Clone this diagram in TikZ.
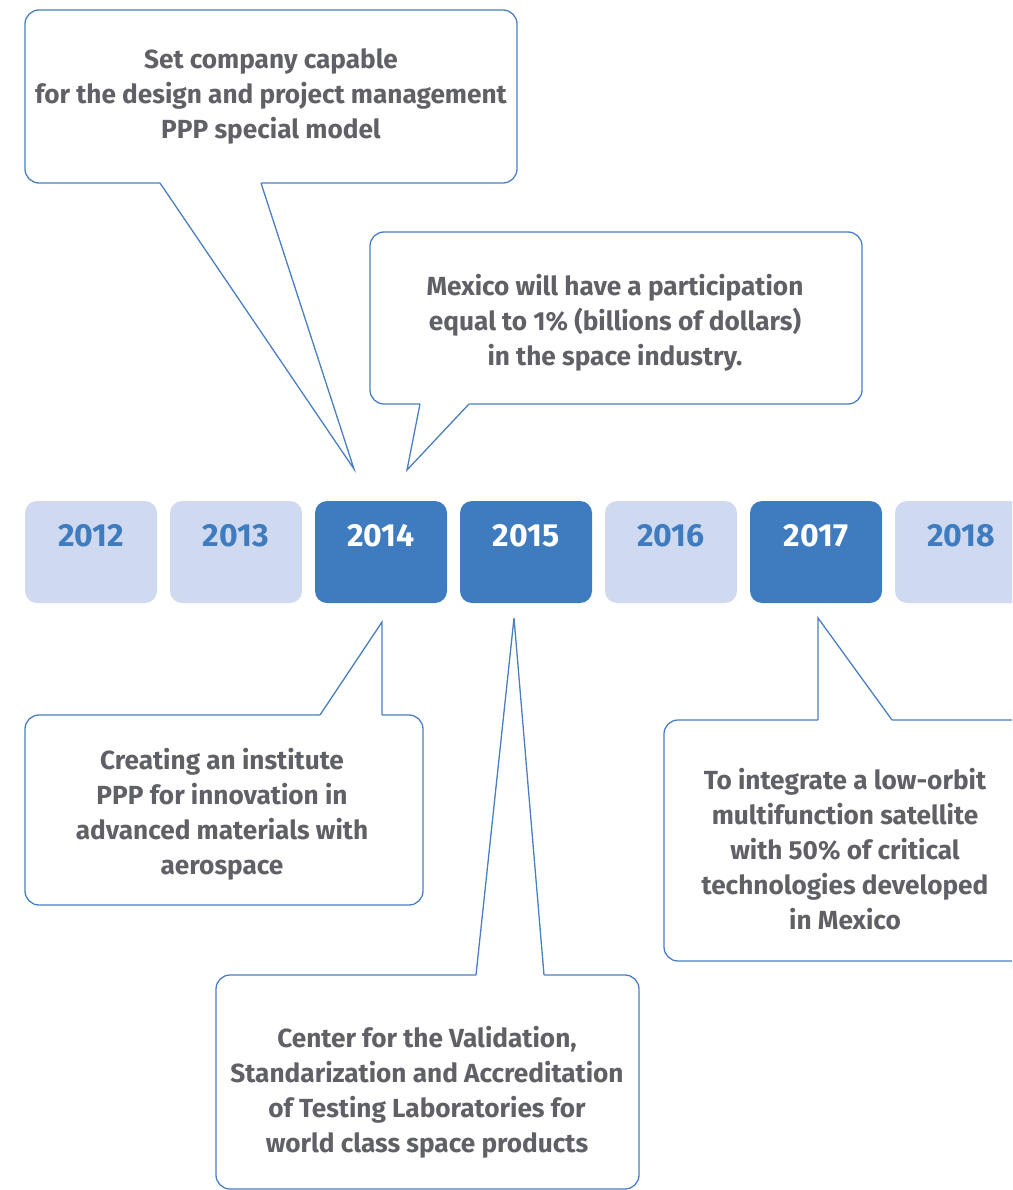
\documentclass[tikz,border=0pt]{standalone}
\usepackage{fontspec}
\setmainfont{Fira Sans}
\definecolor{yrdark}{HTML}{3F7CBF}
\definecolor{yrlight}{HTML}{CFDAF0}
\definecolor{txtgray}{HTML}{606166}
\definecolor{edge}{HTML}{4A80C2}
\begin{document}
\begin{tikzpicture}[x=1pt,y=-1pt,
  yearbox/.style={rounded corners=12pt,minimum width=132pt,minimum height=102pt,inner sep=0pt},
  yearlight/.style={yearbox,fill=yrlight},
  yeardark/.style={yearbox,fill=yrdark},
  yeartxt/.style={inner sep=0pt,font=\fontsize{32}{35}\selectfont\bfseries},
  calloutbox/.style={draw=edge,line width=1.3pt,fill=white,rounded corners=14pt,inner sep=0pt},
  callouttxt/.style={align=center,inner sep=0pt,text=txtgray,font=\fontsize{26.2}{35}\selectfont\bfseries},
  pointer/.style={draw=edge,line width=1.3pt,line join=miter},
]
\useasboundingbox (0,0) rectangle (1012,1190);
\clip (0,0) rectangle (1012,1190);

% timeline of years
\foreach \yr/\x/\kind/\tc in {2012/91/yearlight/yrdark,2013/236/yearlight/yrdark,
    2014/381/yeardark/white,2015/526/yeardark/white,2016/671/yearlight/yrdark,
    2017/816/yeardark/white,2018/961/yearlight/yrdark}{
  \node[\kind] (y\yr) at (\x,552) {};
  \node[yeartxt,text=\tc] (t\yr) at ([yshift=16pt]y\yr.center) {\yr};
}

% callout boxes
\node[calloutbox,minimum width=492pt,minimum height=173pt] (ca) at (271,96.5) {};
\node[calloutbox,minimum width=492pt,minimum height=172pt] (cb) at (616,318) {};
\node[calloutbox,minimum width=398pt,minimum height=190pt] (cc) at (224,810) {};
\node[calloutbox,minimum width=423pt,minimum height=214pt] (cd) at (427.5,1082) {};
\node[calloutbox,minimum width=366pt,minimum height=241pt] (ce) at (847,840.5) {};

% pointer coordinates
\coordinate (a1) at (160,183);   \coordinate (atip) at (354,469); \coordinate (a2) at (261,183);
\coordinate (b1) at (420,404);   \coordinate (btip) at (407,470); \coordinate (b2) at (469,404);
\coordinate (c1) at (320,715);   \coordinate (ctip) at (382,622); \coordinate (c2) at (382,715);
\coordinate (d1) at (476,975);   \coordinate (dtip) at (514,618); \coordinate (d2) at (544,975);
\coordinate (e1) at (818,720);   \coordinate (etip) at (818,618); \coordinate (e2) at (892,720);

% pointers opening below a box
\foreach \p in {a,b}{
  \fill[white] ([yshift=2pt]\p1) -- (\p1) -- (\p tip) -- (\p2) -- ([yshift=2pt]\p2) -- cycle;
  \draw[pointer] (\p1) -- (\p tip) -- (\p2);
}
% pointers opening above a box
\foreach \p in {c,d,e}{
  \fill[white] ([yshift=-2pt]\p1) -- (\p1) -- (\p tip) -- (\p2) -- ([yshift=-2pt]\p2) -- cycle;
  \draw[pointer] (\p1) -- (\p tip) -- (\p2);
}

% callout texts
\node[callouttxt] (xa) at (271,96) {Set company capable\\for the design and project management\\PPP special model};
\node[callouttxt] (xb) at (615,323) {Mexico will have a participation\\equal to 1\% (billions of dollars)\\in the space industry.};
\node[callouttxt] (xc) at (222,814) {Creating an institute\\PPP for innovation in\\advanced materials with\\aerospace};
\node[callouttxt] (xd) at (427,1092) {Center for the Validation,\\Standarization and Accreditation\\of Testing Laboratories for\\world class space products};
\node[callouttxt] (xe) at (845,849) {To integrate a low-orbit\\multifunction satellite\\with 50\% of critical\\technologies developed\\in Mexico};
\end{tikzpicture}
\end{document}
